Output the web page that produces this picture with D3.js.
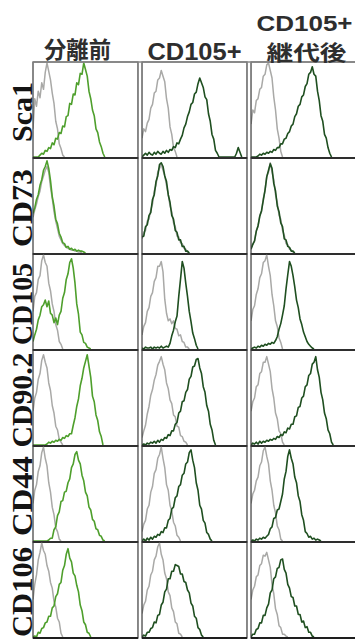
<!DOCTYPE html>
<html>
<head>
<meta charset="utf-8">
<script src="https://cdnjs.cloudflare.com/ajax/libs/d3/7.8.5/d3.min.js"></script>
<style>
  body { margin: 0; background: #fff; }
  svg { display: block; }
</style>
</head>
<body>
<svg id="chart"></svg>
<script>
// Flow cytometry histogram grid: markers (rows) x cell fractions (columns)
const markers = ['Sca1', 'CD73', 'CD105', 'CD90.2', 'CD44', 'CD106'];
const groups = ['pre', 'cd105', 'passaged'];
const groupTitles = [['分離前'], ['CD105+'], ['CD105+', '継代後']];
const nBins = 60;

// counts per bin (% of panel height), [pre, cd105, passaged]
const sca1Ctrl = [
  [30,62,54,70,63,79,72,90,100,91,82,68,57,38,30,14,9,2,0],
  [20,30,27,36,40,52,56,68,70,82,84,92,86,80,62,52,32,24,10,6,0],
  [35,50,47,60,62,72,74,86,88,98,100,92,84,64,50,30,20,6,0]
];
const sca1Stain = [
  [0,0,0,0,2,4,3,7,6,10,9,15,13,20,19,26,25,33,32,43,44,57,56,67,66,79,77,89,88,100,93,86,70,62,50,44,30,26,16,11,4,0],
  [0,2,4,2,5,3,2,5,3,6,4,3,6,4,7,5,8,7,11,10,15,14,19,23,31,35,43,48,56,58,67,69,78,84,79,74,64,61,46,38,24,19,7,4,0,0,0,0,0,0,0,0,0,0,4,10,5,0],
  [0,0,0,0,1,3,2,4,3,5,4,6,5,8,7,10,10,14,14,19,20,25,27,33,35,43,46,54,56,64,66,75,78,88,90,96,88,86,70,60,44,38,24,20,10,4,0]
];
const cd73Ctrl = [
  [38,46,52,60,66,76,82,88,92,86,70,58,44,34,26,18,14,10,8,6,5,4,3,3,2,2,1,1,0],
  [15,22,24,34,36,46,52,66,72,86,90,94,88,82,72,62,50,44,32,28,18,17,11,10,5,4,1,0],
  [5,10,12,24,28,40,44,58,66,82,86,96,86,78,62,54,40,36,24,19,10,9,4,3,1,0]
];
const cd73Stain = [
  [42,48,57,62,72,78,88,92,98,90,77,60,50,36,31,21,17,11,10,6,7,4,5,3,4,2,3,2,2,1,0],
  [17,18,28,30,40,43,57,62,76,82,94,96,92,82,76,62,54,40,36,24,22,14,14,7,7,2,2,0],
  [4,9,13,23,29,39,45,56,67,81,88,95,90,74,66,50,44,32,28,15,14,7,6,2,2,0]
];
const cd105Ctrl = [
  [40,56,60,74,78,94,100,92,88,70,62,48,40,26,20,8,5,0],
  [15,24,28,40,44,56,60,72,76,88,88,93,82,53,38,30,32,27,30,22,21,14,15,8,7,2,2,0],
  [30,42,46,58,64,76,80,92,94,100,88,78,58,46,30,24,12,7,0]
];
const cd105Stain = [
  [8,15,21,31,36,45,47,52,45,51,38,36,28,33,26,36,40,54,60,74,80,92,96,86,70,48,37,18,15,7,6,2,1,0],
  [1,0,2,1,1,2,0,2,1,2,1,3,1,2,3,2,6,14,20,29,35,56,74,93,86,70,56,40,29,17,11,4,0],
  [0,1,2,1,3,2,4,3,5,4,6,5,7,6,9,13,21,27,36,46,64,79,93,88,78,66,52,44,32,26,18,13,8,5,3,1,0]
];
const cd90Ctrl = [
  [36,50,56,70,76,90,96,88,82,66,58,42,34,20,16,6,3,0],
  [8,15,21,33,41,53,59,69,75,85,89,94,86,80,66,60,48,44,32,30,20,19,10,9,4,3,0],
  [36,46,50,62,64,76,78,88,88,94,86,78,60,50,34,28,15,12,3,0]
];
const cd90Stain = [
  [0,0,0,0,0,0,0,0,1,3,2,4,3,5,4,6,5,8,7,10,9,12,12,21,29,41,49,63,71,82,89,96,84,72,52,46,32,26,14,9,0],
  [0,1,0,2,1,3,2,4,2,5,3,6,5,8,7,11,10,15,15,22,24,34,36,46,47,56,59,70,73,83,84,91,92,82,76,62,56,42,36,22,16,5,0],
  [0,2,1,3,1,4,2,4,3,5,4,6,5,7,6,9,8,11,10,14,13,18,17,22,22,30,31,40,41,50,52,62,64,74,76,86,88,94,80,72,56,48,34,28,16,12,3,0]
];
const cd44Ctrl = [
  [40,54,60,74,80,94,100,88,80,62,52,36,28,14,10,2,0],
  [10,18,22,34,38,52,58,72,76,88,92,100,88,78,60,54,38,32,20,16,6,4,0],
  [40,50,54,64,68,80,84,96,100,90,82,64,54,38,30,16,12,2,0]
];
const cd44Stain = [
  [0,0,0,0,0,0,0,0,0,1,3,3,12,15,27,31,42,43,52,53,62,66,78,82,92,95,86,82,70,64,52,48,36,33,23,21,13,12,6,5,1,0],
  [0,2,0,3,1,4,2,5,4,7,6,10,9,14,14,22,24,34,36,46,48,58,60,70,72,82,84,94,97,86,78,62,54,38,34,22,19,9,7,2,0],
  [0,1,0,2,1,3,2,4,3,5,7,13,15,24,25,33,34,42,50,66,74,90,97,88,82,68,62,48,42,28,22,10,8,4,5,2,3,1,2,1,0]
];
const cd106Ctrl = [
  [40,56,66,82,90,100,92,88,76,70,58,52,38,32,20,16,4,0],
  [25,34,38,50,54,66,70,82,86,96,100,88,82,68,62,48,44,31,27,16,14,4,3,0],
  [40,50,54,64,66,76,78,87,86,90,82,74,56,46,30,24,12,10,3,3,1,0]
];
const cd106Stain = [
  [0,1,0,5,4,9,10,15,16,22,22,31,33,43,46,56,58,71,76,88,94,84,80,68,65,55,48,34,28,16,13,5,4,0],
  [0,2,1,5,5,9,10,16,15,23,24,34,37,48,51,62,62,70,70,77,76,75,67,67,59,58,50,47,36,33,22,20,10,8,2,0],
  [0,3,3,8,9,15,15,23,23,31,35,47,50,62,64,73,74,82,83,72,68,56,52,43,42,33,33,24,24,16,17,10,11,5,5,1,0]
];

const ctrlByMarker = [sca1Ctrl, cd73Ctrl, cd105Ctrl, cd90Ctrl, cd44Ctrl, cd106Ctrl];
const stainByMarker = [sca1Stain, cd73Stain, cd105Stain, cd90Stain, cd44Stain, cd106Stain];

const W = 355, H = 641;
const svg = d3.select('#chart').attr('width', W).attr('height', H);

// panel grid
const colScale = d3.scaleBand().domain(groups).range([33, 356]).paddingInner(0.037).paddingOuter(0);
const rowScale = d3.scaleBand().domain(markers).range([62, 638]).padding(0);
const bw = colScale.bandwidth();
const bh = rowScale.bandwidth();

const x = d3.scaleLinear().domain([0, nBins]).range([0, bw]);
const y = d3.scaleLinear().domain([0, 100]).range([bh - 1, 1]);

const line = d3.line()
  .x((d, i) => x(i))
  .y(d => y(d));

const stainColor = ['#4e9f2c', '#1f4f20', '#1f4f20'];
const ctrlColor = '#a9a9a7';

svg.append('defs').append('clipPath')
  .attr('id', 'panelClip')
  .append('rect')
  .attr('width', bw).attr('height', bh);

markers.forEach((m, r) => {
  groups.forEach((g, c) => {
    const panel = svg.append('g')
      .attr('transform', `translate(${colScale(g)},${rowScale(m)})`);

    const plot = panel.append('g').attr('clip-path', 'url(#panelClip)');
    plot.append('path')
      .datum(ctrlByMarker[r][c])
      .attr('fill', 'none')
      .attr('stroke', ctrlColor)
      .attr('stroke-width', 1.5)
      .attr('stroke-linejoin', 'round')
      .attr('d', line);
    plot.append('path')
      .datum(stainByMarker[r][c])
      .attr('fill', 'none')
      .attr('stroke', stainColor[c])
      .attr('stroke-width', 1.6)
      .attr('stroke-linejoin', 'round')
      .attr('d', line);

    // frame
    panel.append('rect')
      .attr('width', bw).attr('height', bh)
      .attr('fill', 'none')
      .attr('stroke', '#3a3a3a')
      .attr('stroke-width', 1.2);
    panel.append('line')
      .attr('x1', 0).attr('x2', bw)
      .attr('y1', bh).attr('y2', bh)
      .attr('stroke', '#1e1e1e')
      .attr('stroke-width', 2);
  });
});

// top edge of the first row is lighter
svg.append('line')
  .attr('x1', colScale('pre')).attr('x2', W)
  .attr('y1', rowScale('Sca1')).attr('y2', rowScale('Sca1'))
  .attr('stroke', '#8a8a8a')
  .attr('stroke-width', 1.4);

// row labels (rotated, serif)
const labelLen = { 'Sca1': 60, 'CD73': 78, 'CD105': 82, 'CD90.2': 95, 'CD44': 80, 'CD106': 90 };
svg.append('g').selectAll('text')
  .data(markers)
  .join('text')
  .attr('transform', d => `translate(32,${rowScale(d) + bh / 2 + 2}) rotate(-90)`)
  .attr('text-anchor', 'middle')
  .attr('font-family', '"Liberation Serif", "DejaVu Serif", serif')
  .attr('font-weight', 'bold')
  .attr('font-size', 30)
  .attr('fill', '#141414')
  .attr('textLength', d => labelLen[d])
  .attr('lengthAdjust', 'spacingAndGlyphs')
  .text(d => d);

// column titles
const titleFont = '"Liberation Sans", "Noto Sans CJK JP", sans-serif';
const titleSpec = [
  [{ dx: -8, y: 58, len: 67, size: 23 }],
  [{ dx: 0, y: 60, len: 94, size: 24 }],
  [{ dx: 1, y: 31, len: 96, size: 22 }, { dx: 3, y: 60, len: 80, size: 21 }]
];
groups.forEach((g, c) => {
  groupTitles[c].forEach((t, k) => {
    const s = titleSpec[c][k];
    svg.append('text')
      .attr('x', colScale(g) + bw / 2 + s.dx)
      .attr('y', s.y)
      .attr('text-anchor', 'middle')
      .attr('font-family', /[\u3000-\u9fff]/.test(t) ? '"Noto Sans CJK JP", sans-serif' : titleFont)
      .attr('font-weight', 'bold')
      .attr('font-size', s.size)
      .attr('fill', '#2e2e2e')
      .attr('textLength', s.len)
      .attr('lengthAdjust', 'spacingAndGlyphs')
      .text(t);
  });
});
</script>
</body>
</html>
